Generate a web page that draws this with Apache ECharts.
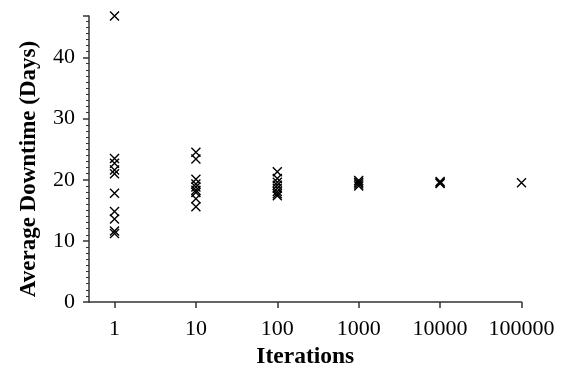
<!DOCTYPE html>
<html><head><meta charset="utf-8">
<script src="https://cdn.jsdelivr.net/npm/echarts@6/dist/echarts.min.js"></script>
<style>html,body{margin:0;padding:0;background:#fff}#c{width:566px;height:380px}</style>
</head><body><div id="c"></div>
<script>
var tickLabels = [1, 10, 100, 1000, 10000, 100000];
var downtimeAt1 = [46.8, 23.5, 22.7, 21.6, 21.0, 17.8, 14.8, 13.6, 11.6, 11.2];
var downtimeAt10 = [24.5, 23.4, 20.1, 19.3, 18.8, 18.3, 17.9, 16.9, 15.6];
var downtimeAt100 = [21.3, 20.2, 19.6, 19.1, 18.6, 18.1, 17.7, 17.4];
var downtimeAt1000 = [19.9, 19.6, 19.3, 19.0];
var downtimeAt10000 = [19.7, 19.5, 19.4];
var downtimeAt100000 = [19.5];

var groups = [downtimeAt1, downtimeAt10, downtimeAt100, downtimeAt1000, downtimeAt10000, downtimeAt100000];
var pts = [];
groups.forEach(function (g, i) { g.forEach(function (v) { pts.push([tickLabels[i], v]); }); });

var font = 'Liberation Serif';
var chart = echarts.init(document.getElementById('c'));
chart.setOption({
  animation: false,
  grid: { left: 89, right: 44.5, top: 16, bottom: 78 },
  xAxis: {
    type: 'log', min: 0.486, max: 100000,
    name: 'Iterations', nameLocation: 'middle', nameGap: 41,
    nameTextStyle: { fontFamily: font, fontSize: 23.5, fontWeight: 'bold', color: '#000' },
    axisLine: { lineStyle: { color: '#333', width: 1.5 } },
    axisTick: { show: true, length: 6, customValues: tickLabels, lineStyle: { color: '#333', width: 1.5 } },
    axisLabel: { customValues: tickLabels, margin: 16, fontFamily: font, fontSize: 22, color: '#000',
      formatter: function (v) { return String(Math.round(v)); } },
    splitLine: { show: false }, minorTick: { show: false }
  },
  yAxis: {
    type: 'value', min: 0, max: 46.8, interval: 10,
    name: 'Average Downtime (Days)', nameLocation: 'middle', nameGap: 48,
    nameTextStyle: { fontFamily: font, fontSize: 23, fontWeight: 'bold', color: '#000', padding: [0, 20, 0, 0] },
    axisLine: { show: true, lineStyle: { color: '#333', width: 1.5 } },
    axisTick: { show: true, length: 6, lineStyle: { color: '#333', width: 1.5 } },
    minorTick: { show: true, splitNumber: 10, length: 3, lineStyle: { color: '#333', width: 1 } },
    axisLabel: { margin: 14, fontFamily: font, fontSize: 22, color: '#000', showMaxLabel: false },
    splitLine: { show: false }
  },
  series: [{
    type: 'scatter',
    data: pts,
    clip: false,
    symbol: 'path://M0,0L10,10M10,0L0,10',
    symbolSize: 9,
    itemStyle: { color: 'none', borderColor: '#000', borderWidth: 1.4, opacity: 1 }
  }]
});
</script></body></html>
